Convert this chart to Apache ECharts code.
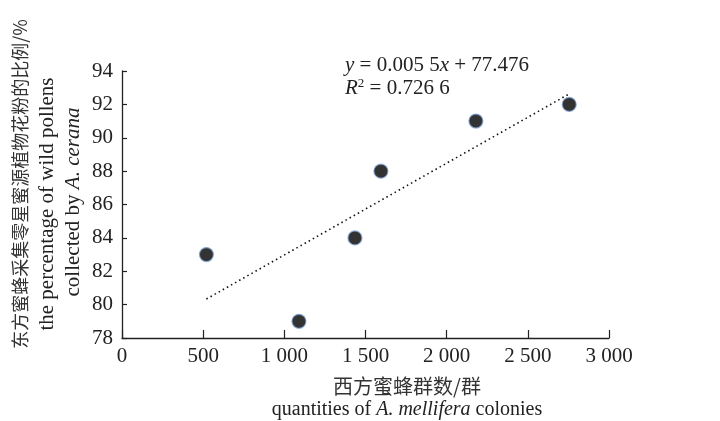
<!DOCTYPE html>
<html>
<head>
<meta charset="utf-8">
<script src="https://cdn.jsdelivr.net/npm/echarts@6/dist/echarts.min.js"></script>
<style>
  html, body { margin: 0; padding: 0; background: #fff; }
  #chart { width: 720px; height: 421px; }
</style>
</head>
<body>
<div id="chart"></div>
<script>
// Colony counts of A. mellifera and share of wild pollen collected by A. cerana
const colonies = [520, 1090, 1435, 1595, 2180, 2755];
const wildPollenPct = [83, 79, 84, 88, 91, 92];

// Linear fit reported for the data
const slope = 0.0055;
const intercept = 77.476;
const fitText = '{i|y} = 0.005 5{i|x} + 77.476';
const rSquaredText = '{i|R}{s|2} = 0.726 6';

const xTicks = { min: 0, max: 3000, step: 500 };
const yTicks = { min: 78, max: 94, step: 2 };

const serif = '"Liberation Serif", "Times New Roman", serif';
const cjk = '"Noto Sans CJK SC", sans-serif';
const ink = '#222';

const points = colonies.map((x, i) => [x, wildPollenPct[i]]);
const xLo = Math.min(...colonies), xHi = Math.max(...colonies);
const fitLine = [xLo, xHi].map(x => [x, slope * x + intercept]);

function groupThousands(v) {
  return String(v).replace(/\B(?=(\d{3})+(?!\d))/g, ' ');
}

const italic = size => ({ fontStyle: 'italic', fontFamily: serif, fontSize: size, fill: ink });

const chart = echarts.init(document.getElementById('chart'));
chart.setOption({
  backgroundColor: '#fff',
  animation: false,
  grid: { left: 122, right: 111, top: 71, bottom: 83 },
  xAxis: {
    type: 'value',
    min: xTicks.min, max: xTicks.max, interval: xTicks.step,
    splitLine: { show: false },
    axisLine: { show: true, lineStyle: { color: ink, width: 1.3 } },
    axisTick: { show: true, inside: true, length: 8, lineStyle: { color: ink, width: 1.2 } },
    axisLabel: {
      margin: 8, color: ink, fontFamily: serif, fontSize: 21,
      formatter: v => groupThousands(v)
    }
  },
  yAxis: {
    type: 'value',
    min: yTicks.min, max: yTicks.max, interval: yTicks.step,
    splitLine: { show: false },
    axisLine: { show: true, lineStyle: { color: ink, width: 1.3 } },
    axisTick: { show: true, inside: true, length: 5, lineStyle: { color: ink, width: 1.2 } },
    axisLabel: { margin: 9, color: ink, fontFamily: serif, fontSize: 21 }
  },
  series: [
    {
      type: 'line',
      data: fitLine,
      symbol: 'none',
      silent: true,
      lineStyle: { color: '#111', width: 1.6, type: [1.5, 3.2] },
      z: 2
    },
    {
      type: 'scatter',
      data: points,
      symbol: 'circle',
      symbolSize: 14,
      itemStyle: { color: '#000', borderColor: '#7ea2d6', borderWidth: 1.2 },
      z: 3
    }
  ],
  graphic: [
    {
      type: 'text', x: 345, y: 65,
      style: {
        text: fitText, font: '21px ' + serif, fill: ink, verticalAlign: 'middle',
        rich: { i: italic(21) }
      }
    },
    {
      type: 'text', x: 345, y: 88,
      style: {
        text: rSquaredText, font: '21px ' + serif, fill: ink, verticalAlign: 'middle',
        rich: {
          i: italic(21),
          s: { fontFamily: serif, fontSize: 13, fill: ink, verticalAlign: 'top', padding: [0, 0, 8, 0] }
        }
      }
    },
    // y-axis title, three rotated lines
    {
      type: 'text', x: 20, y: 184, rotation: Math.PI / 2,
      style: {
        text: '东方蜜蜂采集零星蜜源植物花粉的比例/%',
        font: '18px ' + cjk, fill: '#333', align: 'center', verticalAlign: 'middle'
      }
    },
    {
      type: 'text', x: 47, y: 204, rotation: Math.PI / 2,
      style: {
        text: 'the percentage of wild pollens',
        font: '21px ' + serif, fill: ink, align: 'center', verticalAlign: 'middle'
      }
    },
    {
      type: 'text', x: 73, y: 202, rotation: Math.PI / 2,
      style: {
        text: 'collected by {i|A. cerana}',
        font: '21px ' + serif, fill: ink, align: 'center', verticalAlign: 'middle',
        rich: { i: italic(21) }
      }
    },
    // x-axis title, two lines
    {
      type: 'text', x: 407, y: 386,
      style: {
        text: '西方蜜蜂群数/群',
        font: '20px ' + cjk, fill: '#333', align: 'center', verticalAlign: 'middle'
      }
    },
    {
      type: 'text', x: 407, y: 410,
      style: {
        text: 'quantities of {i|A. mellifera} colonies',
        font: '20px ' + serif, fill: ink, align: 'center', verticalAlign: 'middle',
        rich: { i: italic(20) }
      }
    }
  ]
});
</script>
</body>
</html>
